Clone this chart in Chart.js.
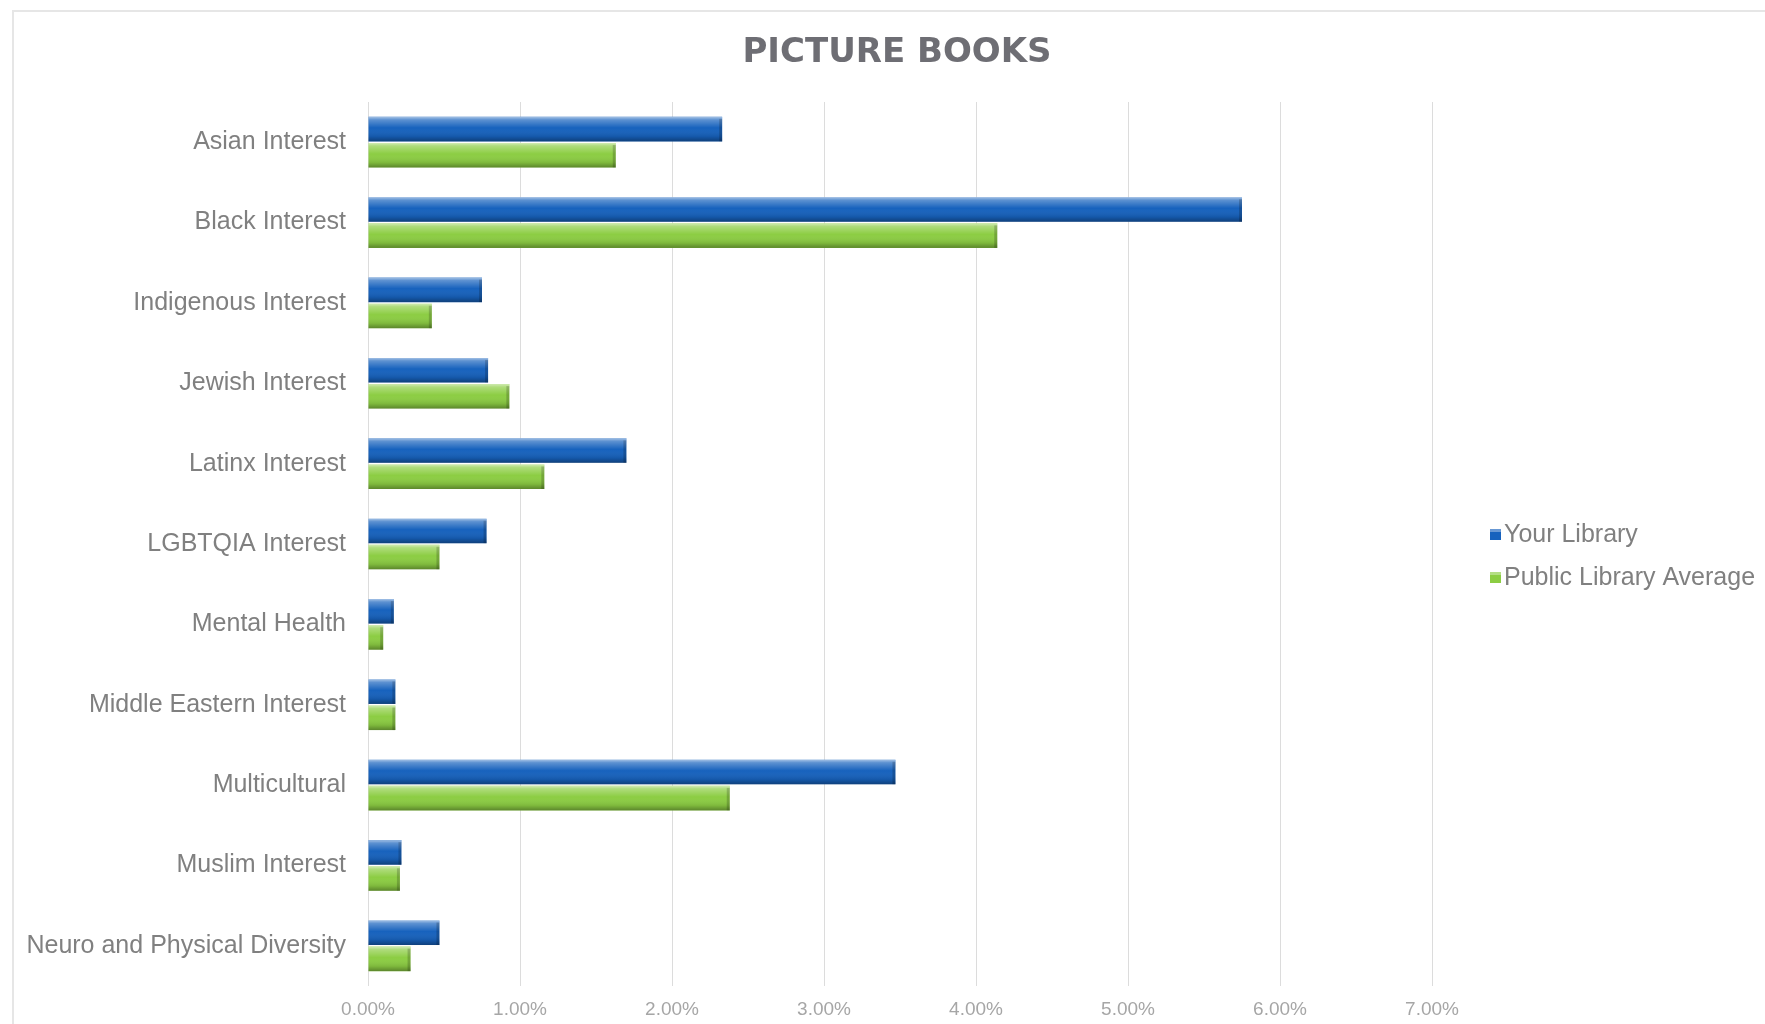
<!DOCTYPE html>
<html>
<head>
<meta charset="utf-8">
<title>Picture Books</title>
<script src="https://cdn.jsdelivr.net/npm/chart.js@4.4.1/dist/chart.umd.min.js"></script>
<style>
    html, body { margin: 0; padding: 0; background: #fff; overflow: hidden; }
    #frame {
        position: absolute;
        left: 12px;
        top: 10px;
        width: 1766px;
        height: 1040px;
        border: 2px solid #e6e6e6;
    }
    #chart { display: block; }
</style>
</head>
<body>
<div id="frame"><canvas id="chart" width="1766" height="1040"></canvas></div>
<script>
const titleText = 'PICTURE BOOKS';

const categories = [
    'Asian Interest',
    'Black Interest',
    'Indigenous Interest',
    'Jewish Interest',
    'Latinx Interest',
    'LGBTQIA Interest',
    'Mental Health',
    'Middle Eastern Interest',
    'Multicultural',
    'Muslim Interest',
    'Neuro and Physical Diversity'
];

// percent of collection
const yourLibrary = [2.33, 5.75, 0.75, 0.79, 1.70, 0.78, 0.17, 0.18, 3.47, 0.22, 0.47];
const publicAverage = [1.63, 4.14, 0.42, 0.93, 1.16, 0.47, 0.10, 0.18, 2.38, 0.21, 0.28];

const xTicks = [0, 1, 2, 3, 4, 5, 6, 7];

const seriesNames = ['Your Library', 'Public Library Average'];
const seriesColors = ['#1762bd', '#8ccd43'];

const labelFont = '"Liberation Sans", Arial, sans-serif';

// glossy look of the original bars: highlight on top, shade underneath
const barShine = {
    id: 'barShine',
    afterDatasetsDraw(chart) {
        const ctx = chart.ctx;
        chart.data.datasets.forEach((ds, i) => {
            const meta = chart.getDatasetMeta(i);
            meta.data.forEach(bar => {
                const top = bar.y - bar.height / 2;
                const left = Math.min(bar.base, bar.x);
                const w = Math.abs(bar.x - bar.base);
                const g = ctx.createLinearGradient(0, top, 0, top + bar.height);
                g.addColorStop(0, 'rgba(255,255,255,0.6)');
                g.addColorStop(0.12, 'rgba(255,255,255,0.3)');
                g.addColorStop(0.45, 'rgba(255,255,255,0)');
                g.addColorStop(0.8, 'rgba(0,0,0,0.10)');
                g.addColorStop(1, 'rgba(0,0,0,0.35)');
                ctx.save();
                ctx.fillStyle = g;
                ctx.fillRect(left, top, w, bar.height);
                // darker end cap
                ctx.fillStyle = 'rgba(0,0,0,0.18)';
                ctx.fillRect(left + w - 3, top + 2, 3, bar.height - 2);
                ctx.restore();
            });
        });
    }
};

// title centred on the whole frame, not only on the plot
const frameTitle = {
    id: 'frameTitle',
    afterDraw(chart) {
        const ctx = chart.ctx;
        ctx.save();
        ctx.font = 'bold 34px "DejaVu Sans", sans-serif';
        ctx.fillStyle = '#6e6e74';
        ctx.textAlign = 'center';
        ctx.textBaseline = 'middle';
        ctx.fillText(titleText, chart.width / 2, 41);
        ctx.restore();
    }
};

const sideLegend = {
    id: 'sideLegend',
    afterDraw(chart) {
        const ctx = chart.ctx;
        const area = chart.chartArea;
        const x = area.right + 58;
        const mid = (area.top + area.bottom) / 2;
        const rows = [mid - 10, mid + 33];
        ctx.save();
        ctx.font = '25px ' + labelFont;
        ctx.textBaseline = 'middle';
        ctx.textAlign = 'left';
        chart.data.datasets.forEach((ds, i) => {
            const y = rows[i];
            ctx.fillStyle = ds.backgroundColor;
            ctx.fillRect(x, y - 5, 11, 11);
            ctx.fillStyle = 'rgba(255,255,255,0.35)';
            ctx.fillRect(x, y - 5, 11, 3);
            ctx.fillStyle = '#808080';
            ctx.fillText(ds.label, x + 14, y + 1);
        });
        ctx.restore();
    }
};

const ctx = document.getElementById('chart').getContext('2d');
new Chart(ctx, {
    type: 'bar',
    data: {
        labels: categories,
        datasets: [
            { label: seriesNames[0], data: yourLibrary, backgroundColor: seriesColors[0] },
            { label: seriesNames[1], data: publicAverage, backgroundColor: seriesColors[1] }
        ]
    },
    options: {
        indexAxis: 'y',
        responsive: false,
        animation: false,
        devicePixelRatio: 1,
        categoryPercentage: 0.65,
        barPercentage: 0.94,
        layout: { padding: { left: 0, right: 348, top: 90, bottom: 0 } },
        plugins: {
            legend: { display: false },
            tooltip: { enabled: false },
            title: { display: false }
        },
        scales: {
            x: {
                type: 'linear',
                min: 0,
                max: 7,
                afterBuildTicks: scale => { scale.ticks = xTicks.map(v => ({ value: v })); },
                afterFit: scale => { scale.height = 66; },
                grid: { color: '#dcdcdc', lineWidth: 1, drawTicks: false },
                border: { display: false },
                ticks: {
                    padding: 12,
                    color: '#a6a6a6',
                    font: { family: '"Liberation Sans", Arial, sans-serif', size: 19 },
                    callback: v => v.toFixed(2) + '%'
                }
            },
            y: {
                afterFit: scale => { scale.width = 354; },
                grid: { display: false },
                border: { display: false },
                ticks: {
                    padding: 14,
                    color: '#808080',
                    font: { family: labelFont, size: 25 }
                }
            }
        }
    },
    plugins: [barShine, frameTitle, sideLegend]
});
</script>
</body>
</html>
